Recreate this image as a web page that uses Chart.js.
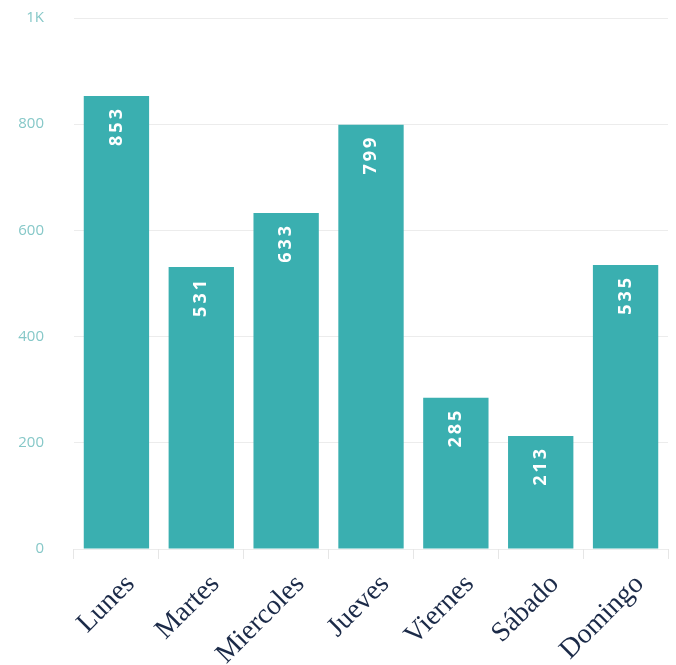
<!DOCTYPE html>
<html>
<head>
<meta charset="utf-8">
<script src="https://cdn.jsdelivr.net/npm/chart.js@4/dist/chart.umd.min.js"></script>
<style>
  html, body { margin: 0; padding: 0; background: #fff; }
  #wrap { width: 676px; height: 665px; }
</style>
</head>
<body>
<div id="wrap"><canvas id="myChart" width="676" height="665"></canvas></div>
<script>
// datos del grafico
var dias = ['Lunes', 'Martes', 'Miercoles', 'Jueves', 'Viernes', 'Sábado', 'Domingo'];
var visitas = [853, 531, 633, 799, 285, 213, 535];
var yTicks = [0, 200, 400, 600, 800, 1000];

// etiquetas giradas dentro de cada barra
var etiquetas = {
    id: 'etiquetas',
    afterDatasetsDraw: function (chart) {
        var ctx = chart.ctx;
        var meta = chart.getDatasetMeta(0);
        ctx.save();
        ctx.fillStyle = '#ffffff';
        ctx.font = 'bold 18px "Open Sans", sans-serif';
        ctx.letterSpacing = '3px';
        ctx.textAlign = 'right';
        ctx.textBaseline = 'middle';
        meta.data.forEach(function (bar, i) {
            ctx.save();
            ctx.translate(bar.x, bar.y + 10);
            ctx.rotate(-Math.PI / 2);
            ctx.fillText(visitas[i], 0, 0);
            ctx.restore();
        });
        ctx.restore();
    }
};

var ctx = document.getElementById('myChart').getContext('2d');
var myChart = new Chart(ctx, {
    type: 'bar',
    data: {
        labels: dias,
        datasets: [{
            data: visitas,
            backgroundColor: '#3aafb0',
            borderWidth: 0,
            categoryPercentage: 1,
            barPercentage: 0.77
        }]
    },
    options: {
        responsive: false,
        animation: false,
        layout: { padding: { top: 18, right: 8, left: 0, bottom: 0 } },
        plugins: {
            legend: { display: false },
            tooltip: { enabled: false }
        },
        scales: {
            y: {
                min: 0,
                max: 1000,
                afterBuildTicks: function (s) {
                    s.ticks = yTicks.map(function (v) { return { value: v }; });
                },
                afterFit: function (s) {
                    s.width = 74;
                    s.paddingTop = 0;
                    s.paddingBottom = 0;
                },
                border: { display: false },
                grid: { color: '#ececec', drawTicks: false },
                ticks: {
                    padding: 30,
                    color: '#86c8c8',
                    font: { family: '"Open Sans", sans-serif', size: 15 },
                    callback: function (v) { return v === 1000 ? '1K' : v; }
                }
            },
            x: {
                afterFit: function (s) {
                    s.height = 116;
                    s.paddingTop = 0;
                },
                border: { display: false },
                grid: { drawOnChartArea: false, drawTicks: true, tickLength: 10, color: '#e6e6e6' },
                ticks: {
                    maxRotation: 45,
                    minRotation: 45,
                    padding: 9,
                    labelOffset: 14,
                    color: '#1b2a48',
                    font: { family: '"Liberation Serif", serif', size: 28 }
                }
            }
        }
    },
    plugins: [etiquetas]
});
</script>
</body>
</html>
